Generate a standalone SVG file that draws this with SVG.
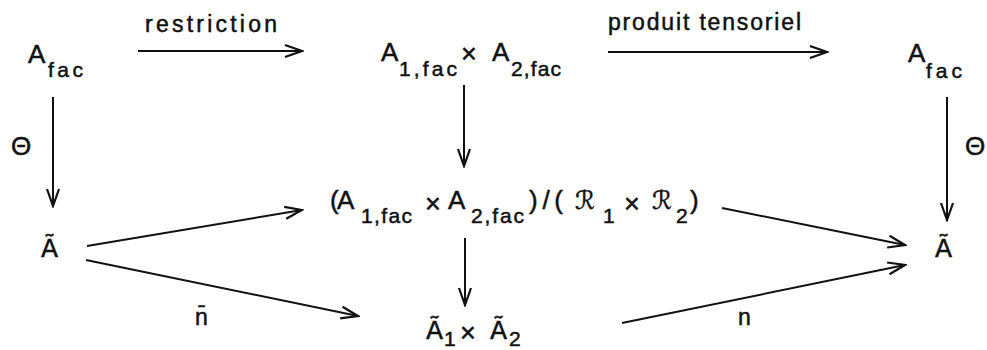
<svg xmlns="http://www.w3.org/2000/svg" width="987" height="350" viewBox="0 0 987 350">
<style>
text{font-family:"Liberation Sans","DejaVu Sans",sans-serif;fill:#111;stroke:#111;stroke-width:0.5}
.m{font-size:26px}
.s{font-size:21px}
.l{font-size:23px}
.x{font-size:27px}
.t{font-family:"DejaVu Sans","Liberation Sans",sans-serif;font-size:25px}
.r{font-family:"DejaVu Sans","Liberation Sans",sans-serif;font-size:25px}
.c line{stroke:#111;stroke-width:2;marker-end:url(#ah)}
</style>
<defs>
<marker id="ah" viewBox="-19 -8 21 16" refX="0" refY="0" markerWidth="21" markerHeight="16" markerUnits="userSpaceOnUse" orient="auto">
<path d="M-17,-6 L0,0 L-17,6" fill="none" stroke="#111" stroke-width="2.2"/>
</marker>
</defs>
<rect width="987" height="350" fill="#fff"/>
<g id="n_afac_left">
<text class="m" x="28" y="63">A</text>
<text class="s" x="48" y="77" textLength="35" lengthAdjust="spacing">fac</text>
</g>
<g id="n_prod_fac">
<text class="m" x="381" y="61">A</text>
<text class="s" x="399" y="76" textLength="58" lengthAdjust="spacing">1,fac</text>
<text class="x" x="461" y="63" font-size="24">×</text>
<text class="m" x="492" y="61">A</text>
<text class="s" x="511" y="76" textLength="50" lengthAdjust="spacing">2,fac</text>
</g>
<g id="n_afac_right">
<text class="m" x="908" y="62">A</text>
<text class="s" x="926" y="78" textLength="36" lengthAdjust="spacing">fac</text>
</g>
<g id="n_atilde_left">
<text class="t" x="41" y="257">Ã</text>
</g>
<g id="n_quotient">
<text class="m" x="330" y="209">(</text>
<text class="m" x="337" y="209">A</text>
<text class="s" x="361" y="223" textLength="51" lengthAdjust="spacing">1,fac</text>
<text class="x" x="425" y="213">×</text>
<text class="m" x="448" y="209">A</text>
<text class="s" x="471" y="223" textLength="53" lengthAdjust="spacing">2,fac</text>
<text class="m" x="529" y="209" textLength="34" lengthAdjust="spacing">)/(</text>
<text class="r" x="575" y="209">ℛ</text>
<text class="s" x="603" y="223">1</text>
<text class="x" x="624" y="213">×</text>
<text class="r" x="652" y="209">ℛ</text>
<text class="s" x="676" y="223">2</text>
<text class="m" x="690" y="209">)</text>
</g>
<g id="n_atilde_right">
<text class="t" x="935" y="257">Ã</text>
</g>
<g id="n_atilde_prod">
<text class="t" x="426" y="339">Ã</text>
<text class="s" x="444" y="346" font-size="19">1</text>
<text class="x" x="460" y="342">×</text>
<text class="t" x="490" y="339">Ã</text>
<text class="s" x="509" y="346" font-size="19">2</text>
</g>
<g id="labels">
<text class="l" x="145" y="32" textLength="132" lengthAdjust="spacing">restriction</text>
<text class="l" x="608" y="30" textLength="193" lengthAdjust="spacing">produit tensoriel</text>
<text class="m" x="11" y="155">Θ</text>
<text class="m" x="965" y="155">Θ</text>
<text class="l" x="195" y="325">n̄</text>
<text class="l" x="738" y="325">n</text>
</g>
<g id="connectors" class="c">
<line x1="138" y1="51" x2="302" y2="51"/>
<line x1="608" y1="52" x2="827" y2="52"/>
<line x1="53" y1="97" x2="53" y2="206"/>
<line x1="947" y1="97" x2="947" y2="220"/>
<line x1="464" y1="85" x2="464" y2="166"/>
<line x1="87" y1="246" x2="302" y2="210"/>
<line x1="86" y1="260" x2="358" y2="316"/>
<line x1="722" y1="208" x2="905" y2="245"/>
<line x1="465" y1="238" x2="465" y2="305"/>
<line x1="622" y1="323" x2="905" y2="265"/>
</g>
</svg>
